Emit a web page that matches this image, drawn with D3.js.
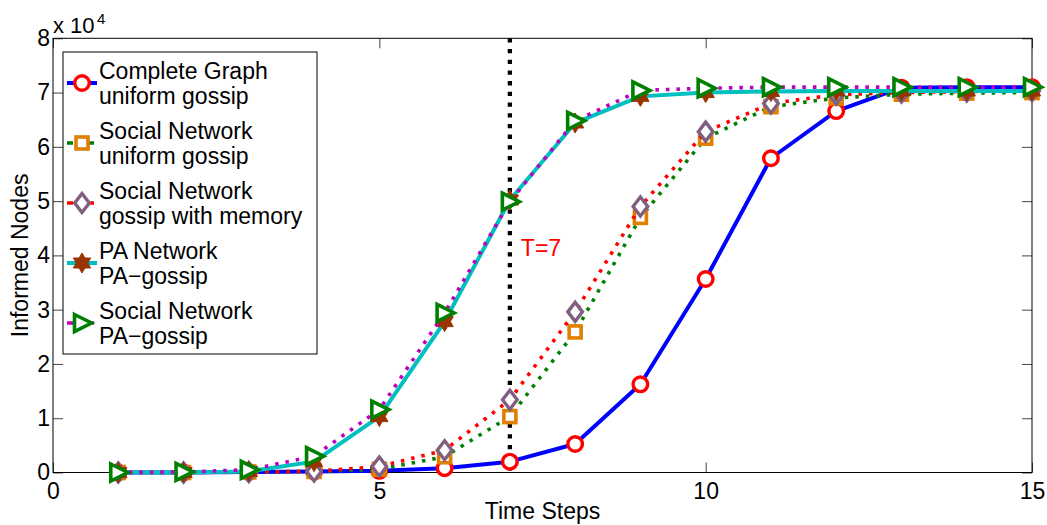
<!DOCTYPE html>
<html>
<head>
<meta charset="utf-8">
<script src="https://cdn.jsdelivr.net/npm/d3@7"></script>
<style>
  html, body { margin: 0; padding: 0; background: #fff; }
  svg { display: block; font-family: "Liberation Sans", Arial, Helvetica, sans-serif; }
</style>
</head>
<body>
<svg id="chart" width="1047" height="525"></svg>
<script>
// ---------------- data ----------------
const timeSteps = [1,2,3,4,5,6,7,8,9,10,11,12,13,14,15];
const completeUniform = [0, 0, 100, 200, 300, 800, 2000, 5250, 16250, 35650, 57900, 66600, 70900, 71000, 71000];
const socialUniform   = [0, 0, 100, 200, 600, 2900, 10300, 25900, 47000, 61600, 67400, 69000, 69700, 69900, 70000];
const socialMemory    = [0, 0, 100, 200, 1100, 4100, 13400, 29600, 49000, 62800, 68000, 69600, 70000, 70200, 70300];
const paNetworkPA     = [0, 0, 200, 2000, 10300, 27800, 50200, 64400, 69300, 70000, 70200, 70300, 70300, 70300, 70300];
const socialPA        = [0, 100, 500, 3000, 11600, 29400, 49900, 64800, 70400, 70800, 71000, 71000, 71000, 71000, 71000];
const seriesNames = [
  ["Complete Graph", "uniform gossip"],
  ["Social Network", "uniform gossip"],
  ["Social Network", "gossip with memory"],
  ["PA Network", "PA\u2212gossip"],
  ["Social Network", "PA\u2212gossip"]
];
const xTicks = [0, 5, 10, 15];
const yTicks = [0, 10000, 20000, 30000, 40000, 50000, 60000, 70000, 80000];
const markT = 7;
const markLabel = "T=7";

// ---------------- styles ----------------
const styles = [
  {line: "#0000ff", dash: null, marker: "circle", mcolor: "#ff0000"},
  {line: "#008000", dash: "3.5,7", marker: "square", mcolor: "#e08000"},
  {line: "#ff0000", dash: "3.5,7", marker: "diamond", mcolor: "#806080"},
  {line: "#00bfbf", dash: null, marker: "hexagram", mcolor: "#993300"},
  {line: "#bf00bf", dash: "3.5,7", marker: "triangle", mcolor: "#008000"}
];
const seriesData = [completeUniform, socialUniform, socialMemory, paNetworkPA, socialPA];

const svg = d3.select("#chart");
const FS = 23;
const x = d3.scaleLinear().domain([0, 15]).range([53, 1032]);
const y = d3.scaleLinear().domain([0, 80000]).range([472.5, 38.3]);

// ---------------- axes ----------------
const fmtY = d => String(d / 10000);
const axB = svg.append("g").attr("transform", `translate(0,${y(0)})`)
  .call(d3.axisBottom(x).tickValues(xTicks).tickSizeInner(-10).tickSizeOuter(0).tickPadding(10).tickFormat(d3.format("d")));
const axT = svg.append("g").attr("transform", `translate(0,${y(80000)})`)
  .call(d3.axisTop(x).tickValues(xTicks).tickSizeInner(-10).tickSizeOuter(0).tickFormat(""));
const axL = svg.append("g").attr("transform", `translate(${x(0)},0)`)
  .call(d3.axisLeft(y).tickValues(yTicks).tickSizeInner(-10).tickSizeOuter(0).tickPadding(3).tickFormat(fmtY));
const axR = svg.append("g").attr("transform", `translate(${x(15)},0)`)
  .call(d3.axisRight(y).tickValues(yTicks).tickSizeInner(-10).tickSizeOuter(0).tickFormat(""));
[axB, axT, axL, axR].forEach(g => {
  g.select(".domain").remove();
  g.selectAll(".tick line").attr("stroke", "#444").attr("stroke-width", 1);
  g.selectAll("text").attr("font-size", FS).attr("fill", "#000").attr("font-family", "Liberation Sans, Arial, sans-serif");
});

// plot box
svg.append("rect")
  .attr("x", x(0)).attr("y", y(80000))
  .attr("width", x(15) - x(0)).attr("height", y(0) - y(80000))
  .attr("fill", "none").attr("stroke", "#000").attr("stroke-width", 1);

// exponent label
svg.append("text").attr("x", 53).attr("y", 33).attr("font-size", 22).text("x 10");
svg.append("text").attr("x", 97).attr("y", 24).attr("font-size", 15).text("4");

// axis titles
svg.append("text").attr("x", (x(0) + x(15)) / 2).attr("y", 519)
  .attr("text-anchor", "middle").attr("font-size", FS).text("Time Steps");
svg.append("text").attr("transform", `translate(28,${(y(0) + y(80000)) / 2}) rotate(-90)`)
  .attr("text-anchor", "middle").attr("font-size", FS).text("Informed Nodes");

// ---------------- markers ----------------
function hexagramPath(R) {
  const r = R / Math.sqrt(3);
  const pts = [];
  for (let i = 0; i < 12; i++) {
    const a = -Math.PI / 2 + i * Math.PI / 6;
    const rr = i % 2 === 0 ? R : r;
    pts.push([rr * Math.cos(a), rr * Math.sin(a)]);
  }
  return "M" + pts.map(p => p.join(",")).join("L") + "Z";
}
function drawMarker(g, type, color) {
  if (type === "circle") {
    g.append("circle").attr("r", 7.3).attr("fill", "#fff").attr("stroke", color).attr("stroke-width", 3.4);
  } else if (type === "square") {
    g.append("rect").attr("x", -6).attr("y", -6).attr("width", 12).attr("height", 12)
      .attr("fill", "#fff").attr("stroke", color).attr("stroke-width", 3.6);
  } else if (type === "diamond") {
    g.append("path").attr("d", "M0,-9.5L7.3,0L0,9.5L-7.3,0Z")
      .attr("fill", "#fff").attr("stroke", color).attr("stroke-width", 3.4);
  } else if (type === "hexagram") {
    g.append("path").attr("d", hexagramPath(10)).attr("fill", color).attr("stroke", color).attr("stroke-width", 1);
  } else if (type === "triangle") {
    g.append("path").attr("d", "M-7.5,-8.5L9.5,0L-7.5,8.5Z")
      .attr("fill", "#fff").attr("stroke", color).attr("stroke-width", 3.6).attr("stroke-linejoin", "miter");
  }
}

// ---------------- vertical line at T ----------------
svg.append("line")
  .attr("x1", x(markT)).attr("x2", x(markT))
  .attr("y1", y(80000)).attr("y2", y(0))
  .attr("stroke", "#000").attr("stroke-width", 4.3).attr("stroke-dasharray", "4.3,6.4");
svg.append("text").attr("x", x(markT) + 11).attr("y", 256).attr("font-size", FS)
  .attr("fill", "#ff0000").text(markLabel);

// ---------------- series ----------------
const line = d3.line().x((d, i) => x(timeSteps[i])).y(d => y(d));
seriesData.forEach((vals, k) => {
  const st = styles[k];
  const g = svg.append("g");
  g.append("path").attr("d", line(vals)).attr("fill", "none")
    .attr("stroke", st.line).attr("stroke-width", st.dash ? 3.6 : 4)
    .attr("stroke-dasharray", st.dash).attr("stroke-linejoin", "round");
  vals.forEach((v, i) => {
    const mg = g.append("g").attr("transform", `translate(${x(timeSteps[i])},${y(v)})`);
    drawMarker(mg, st.marker, st.mcolor);
  });
});

// ---------------- legend ----------------
const leg = svg.append("g");
leg.append("rect").attr("x", 63).attr("y", 52).attr("width", 254).attr("height", 302)
  .attr("fill", "#fff").attr("stroke", "#000").attr("stroke-width", 1);
seriesNames.forEach((nm, k) => {
  const st = styles[k];
  const cy = 83 + 60 * k;
  leg.append("line").attr("x1", 67).attr("x2", 97).attr("y1", cy).attr("y2", cy)
    .attr("stroke", st.line).attr("stroke-width", st.dash ? 3.6 : 4)
    .attr("stroke-dasharray", st.dash ? "6,3,0,12,6" : null);
  const mg = leg.append("g").attr("transform", `translate(82,${cy})`);
  drawMarker(mg, st.marker, st.mcolor);
  leg.append("text").attr("x", 99).attr("y", cy - 4.3).attr("font-size", FS).text(nm[0]);
  leg.append("text").attr("x", 99).attr("y", cy + 20.7).attr("font-size", FS).text(nm[1]);
});
</script>
</body>
</html>
